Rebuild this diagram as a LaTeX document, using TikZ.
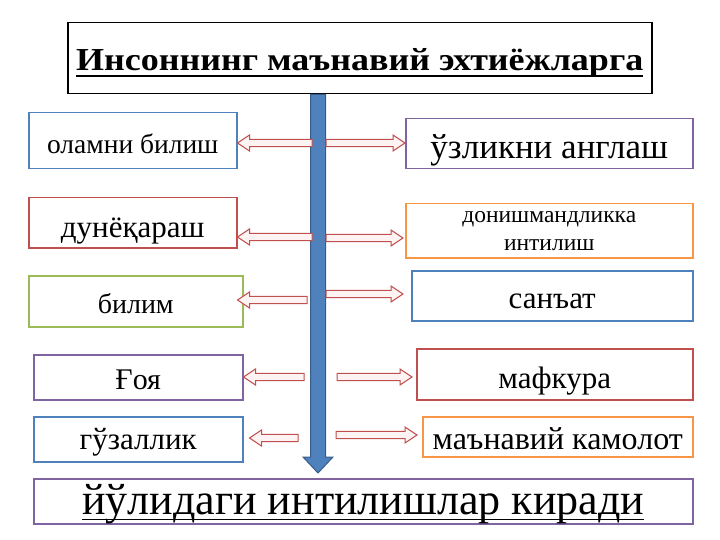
\documentclass[tikz,border=0pt]{standalone}
\usepackage{fontspec}
\setmainfont{Liberation Serif}
\usetikzlibrary{calc}

\definecolor{ofblue}{HTML}{4F81BD}
\definecolor{ofbluedark}{HTML}{385D8A}
\definecolor{ofred}{HTML}{C0504D}
\definecolor{ofgreen}{HTML}{9BBB59}
\definecolor{ofpurple}{HTML}{8064A2}
\definecolor{oforange}{HTML}{F79646}
\definecolor{arrowfill}{HTML}{FDF3F3}

\newsavebox{\linebox}
\newcommand{\lowertext}[2]{\raisebox{-#1}[\height][\depth]{#2}}
\newcommand{\heavyline}[2]{\sbox{\linebox}{#2}\rlap{\rule[-6pt]{\wd\linebox}{#1}}\usebox{\linebox}}

% hollow block arrow between two points: half shaft, half head, head length
\tikzset{
  blockarrow/.style n args={3}{to path={
    let \p1=($(\tikztostart)!#1!90:(\tikztotarget)$),
        \p2=($(\tikztotarget)!#3!(\tikztostart)$),
        \p3=($(\p2)!#1!90:(\tikztotarget)$),
        \p4=($(\p2)!#2!90:(\tikztotarget)$),
        \p5=($(\p2)!#2!-90:(\tikztotarget)$),
        \p6=($(\p2)!#1!-90:(\tikztotarget)$),
        \p7=($(\tikztostart)!#1!-90:(\tikztotarget)$) in
    (\p1) -- (\p3) -- (\p4) -- (\tikztotarget) -- (\p5) -- (\p6) -- (\p7) -- cycle}},
}

\begin{document}
\begin{tikzpicture}[x=1pt, y=-1pt,
  box/.style={draw, line width=1.5pt, anchor=north west, inner sep=2pt, align=center},
  redarrow/.style={draw=ofred, fill=arrowfill, line width=1pt, blockarrow={3.7pt}{8pt}{12pt}},
  trunk/.style={draw=ofbluedark, fill=ofblue, line width=1pt, blockarrow={7.5pt}{15pt}{16pt}}]
\useasboundingbox (0,0) rectangle (720,540);

% title
\node[box, draw=black, minimum width=584pt, minimum height=71pt,
  font=\fontsize{32}{38}\selectfont\bfseries] (title) at (67,22)
  {\lowertext{5pt}{\scalebox{1.125}[1]{\heavyline{2pt}{Инсоннинг маънавий эхтиёжларга}}}};

% left column
\node[box, draw=ofblue, minimum width=208pt, minimum height=56pt, font=\fontsize{27.5}{32}\selectfont] (lb1) at (28,112) {\lowertext{3.5pt}{оламни билиш}};
\node[box, draw=ofred, minimum width=208pt, minimum height=50pt, font=\fontsize{31}{36}\selectfont] (lb2) at (28,197) {\lowertext{8pt}{дунёқараш}};
\node[box, draw=ofgreen, minimum width=214pt, minimum height=51pt, font=\fontsize{28}{32}\selectfont] (lb3) at (28,275) {\lowertext{2pt}{билим}};
\node[box, draw=ofpurple, minimum width=209pt, minimum height=45pt, font=\fontsize{30}{34}\selectfont] (lb4) at (33,354) {\lowertext{3pt}{Ғоя}};
\node[box, draw=ofblue, minimum width=209pt, minimum height=45pt, font=\fontsize{31}{36}\selectfont] (lb5) at (33,416) {\lowertext{3pt}{гўзаллик}};

% right column
\node[box, draw=ofpurple, minimum width=287pt, minimum height=50pt, font=\fontsize{35}{40}\selectfont] (rb1) at (405,118) {\lowertext{7pt}{ўзликни англаш}};
\node[box, draw=oforange, minimum width=287pt, minimum height=54pt, font=\fontsize{23.5}{28}\selectfont] (rb2) at (405,203) {донишмандликка\\интилиш};
\node[box, draw=ofblue, minimum width=281pt, minimum height=50pt, font=\fontsize{31}{36}\selectfont] (rb3) at (411,270) {\lowertext{6pt}{санъат}};
\node[box, draw=ofred, minimum width=276pt, minimum height=51pt, font=\fontsize{31}{36}\selectfont] (rb4) at (416,348) {\lowertext{7pt}{мафкура}};
\node[box, draw=oforange, minimum width=270pt, minimum height=40pt, font=\fontsize{32}{36}\selectfont] (rb5) at (422,416) {\lowertext{2pt}{маънавий камолот}};

% bottom
\node[box, draw=ofpurple, minimum width=659pt, minimum height=45pt, font=\fontsize{44}{48}\selectfont] (bottom) at (33,478)
  {\lowertext{2.5pt}{\heavyline{1.5pt}{йўлидаги интилишлар киради}}};

% trunk
\coordinate (tip) at (318,473);
\draw[trunk] (title.south -| tip) to (tip);

% arrow tails
\coordinate (tl1) at (312,143);
\coordinate (tr1) at (326,143);
\coordinate (tl2) at (312,237);
\coordinate (tr2) at (326,238);
\coordinate (tl3) at (307,300);
\coordinate (tr3) at (326,294);
\coordinate (tl4) at (304,377);
\coordinate (tr4) at (337,377);
\coordinate (tl5) at (298,438);
\coordinate (tr5) at (336,435);

\draw[redarrow] (tl1) to (lb1.east |- tl1);
\draw[redarrow] (tr1) to (rb1.west |- tr1);
\draw[redarrow] (tl2) to (lb2.east |- tl2);
\draw[redarrow] (tr2) to ([xshift=-2pt]rb2.west |- tr2);
\draw[redarrow] (tl3) to ([xshift=-6pt]lb3.east |- tl3);
\draw[redarrow] (tr3) to ([xshift=-8pt]rb3.west |- tr3);
\draw[redarrow] (tl4) to (lb4.east |- tl4);
\draw[redarrow] (tr4) to ([xshift=-4pt]rb4.west |- tr4);
\draw[redarrow] (tl5) to ([xshift=6pt]lb5.east |- tl5);
\draw[redarrow] (tr5) to ([xshift=-5pt]rb5.west |- tr5);
\end{tikzpicture}
\end{document}
